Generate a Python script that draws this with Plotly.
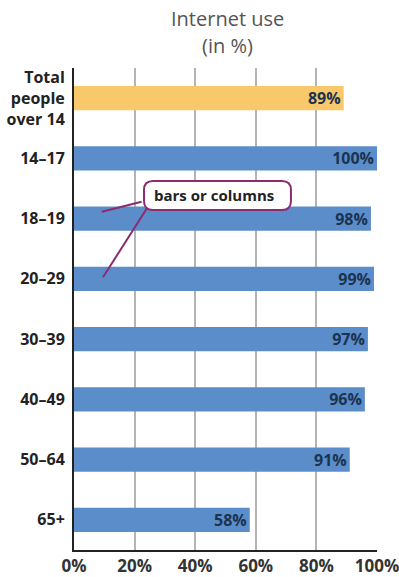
import plotly.graph_objects as go

categories = ["Total<br>people<br>over 14", "14–17", "18–19", "20–29", "30–39", "40–49", "50–64", "65+"]
values = [89, 100, 98, 99, 97, 96, 91, 58]
labels = ["89%", "100%", "98%", "99%", "97%", "96%", "91%", "58%"]
bar_colors = ["#f9c86a"] + ["#5b8dca"] * 7
x_ticks = [0, 20, 40, 60, 80, 100]
x_tick_labels = ["0%", "20%", "40%", "60%", "80%", "100%"]

FONT = "Open Sans"

fig = go.Figure()
fig.add_trace(go.Bar(
    x=values, y=categories, orientation="h",
    marker=dict(color=bar_colors, line=dict(width=0)),
    width=0.4,
    text=labels, textposition="inside", insidetextanchor="end",
    textfont=dict(family=FONT, size=16, color="#1b3350", weight="bold"),
    cliponaxis=False,
    hoverinfo="skip",
))

L, R, T, B = 74, 22, 68, 27
fig.update_layout(
    width=399, height=577,
    margin=dict(l=L, r=R, t=T, b=B, pad=0, autoexpand=False),
    paper_bgcolor="white", plot_bgcolor="white",
    showlegend=False,
    uniformtext=dict(minsize=16, mode="show"),
    xaxis=dict(
        range=[0, 100], tickvals=x_ticks, ticktext=x_tick_labels,
        showgrid=True, gridcolor="#b4b4b4", gridwidth=2,
        showline=True, linecolor="#222", linewidth=2,
        zeroline=False, ticks="", automargin=False,
        ticklabeloverflow="allow",
        tickfont=dict(family=FONT, size=17, color="#333", weight="bold"),
        fixedrange=True,
    ),
    yaxis=dict(
        categoryorder="array", categoryarray=categories,
        autorange="reversed",
        showgrid=False, showline=True, linecolor="#222", linewidth=2,
        ticks="", ticklabelstandoff=4, automargin=False,
        ticklabeloverflow="allow",
        tickfont=dict(family=FONT, size=16, color="#222", weight="bold"),
        fixedrange=True,
    ),
    font=dict(family=FONT),
)

# title lines
fig.add_annotation(text="Internet use", xref="paper", yref="paper", x=0.508, y=1.1037,
                   xanchor="center", yanchor="middle",
                   showarrow=False, font=dict(family=FONT, size=20, color="#555"))
fig.add_annotation(text="(in %)", xref="paper", yref="paper", x=0.508, y=1.0477,
                   xanchor="center", yanchor="middle",
                   showarrow=False, font=dict(family=FONT, size=20, color="#555"))

# callout lines
purple = "#8a2c6e"
fig.add_shape(type="line", xref="paper", yref="paper", x0=0.223, y0=0.7226, x1=0.092, y1=0.7019,
              line=dict(color=purple, width=2))
fig.add_shape(type="line", xref="paper", yref="paper", x0=0.244, y0=0.7122, x1=0.0957, y1=0.5658,
              line=dict(color=purple, width=2))

# rounded box
x0, x1, y0, y1 = 0.231, 0.716, 0.7054, 0.7656
rx, ry = 9 / 303, 9 / 482
path = (f"M {x0+rx},{y0} L {x1-rx},{y0} Q {x1},{y0} {x1},{y0+ry} "
        f"L {x1},{y1-ry} Q {x1},{y1} {x1-rx},{y1} L {x0+rx},{y1} "
        f"Q {x0},{y1} {x0},{y1-ry} L {x0},{y0+ry} Q {x0},{y0} {x0+rx},{y0} Z")
fig.add_shape(type="path", xref="paper", yref="paper", path=path,
              fillcolor="white", line=dict(color=purple, width=2))
fig.add_annotation(text="bars or columns", xref="paper", yref="paper",
                   x=(x0 + x1) / 2 - 0.01, y=(y0 + y1) / 2 + 0.002,
                   xanchor="center", yanchor="middle", showarrow=False,
                   font=dict(family=FONT, size=15, color="#222", weight="bold"))

fig.write_html("out.html",
               config={"displayModeBar": False},
               post_script="document.body.style.margin='0';document.body.style.overflow='hidden';")
